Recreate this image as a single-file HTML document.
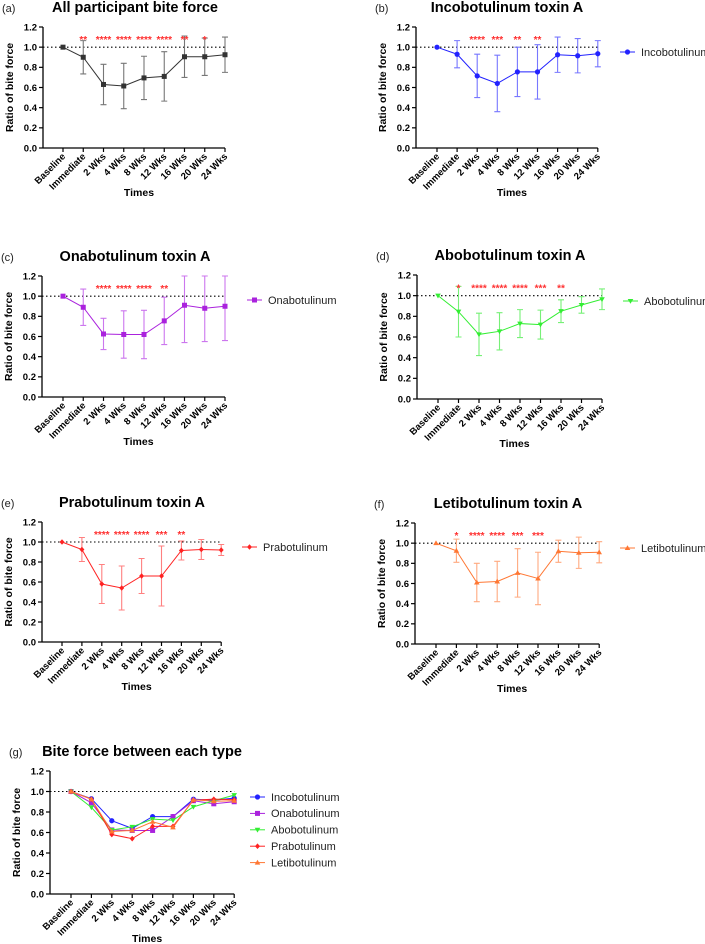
<!DOCTYPE html>
<html><head><meta charset="utf-8"><style>
body{margin:0;background:#fff}
svg{display:block;font-family:"Liberation Sans",Arial,sans-serif}
</style></head><body>
<svg id="fig" width="705" height="944" viewBox="0 0 705 944" xmlns="http://www.w3.org/2000/svg"></svg>
<script>
const categories=["Baseline","Immediate","2 Wks","4 Wks","8 Wks","12 Wks","16 Wks","20 Wks","24 Wks"];
const yTicks=[0,0.2,0.4,0.6,0.8,1.0,1.2];
const allMean=[1,0.90,0.63,0.615,0.695,0.71,0.905,0.905,0.925];
const allSd=[0,0.165,0.2,0.225,0.215,0.245,0.205,0.185,0.175];
const allStars=["","**","****","****","****","****","**","*",""];
const incoMean=[1,0.93,0.715,0.64,0.755,0.755,0.925,0.915,0.935];
const incoSd=[0,0.135,0.215,0.28,0.245,0.27,0.175,0.17,0.13];
const incoStars=["","","****","***","**","**","","",""];
const onaMean=[1,0.89,0.625,0.62,0.62,0.755,0.91,0.88,0.90];
const onaSd=[0,0.18,0.155,0.235,0.24,0.235,0.37,0.33,0.34];
const onaStars=["","","****","****","****","**","","",""];
const aboMean=[1,0.845,0.625,0.655,0.73,0.72,0.85,0.91,0.965];
const aboSd=[0,0.245,0.205,0.18,0.135,0.14,0.11,0.08,0.10];
const aboStars=["","*","****","****","****","***","**","",""];
const praMean=[1,0.925,0.58,0.54,0.66,0.66,0.915,0.925,0.92];
const praSd=[0,0.12,0.195,0.22,0.175,0.30,0.095,0.10,0.055];
const praStars=["","","****","****","****","***","**","",""];
const letiMean=[1,0.925,0.61,0.62,0.705,0.65,0.92,0.905,0.91];
const letiSd=[0,0.115,0.19,0.20,0.24,0.26,0.11,0.155,0.105];
const letiStars=["","*","****","****","***","***","","",""];

const NS="http://www.w3.org/2000/svg";
const svg=document.getElementById('fig');
function mk(tag,attrs,parent,text){const e=document.createElementNS(NS,tag);for(const k in attrs)e.setAttribute(k,attrs[k]);if(text!==undefined)e.textContent=text;(parent||svg).appendChild(e);return e;}

function marker(g,shape,x,y,color){
  let m;
  if(shape==='square')m=mk('rect',{x:x-2.5,y:y-2.5,width:5,height:5,fill:color},g);
  else if(shape==='circle')m=mk('circle',{cx:x,cy:y,r:2.6,fill:color},g);
  else if(shape==='tdown')m=mk('polygon',{points:`${x-2.8},${y-2} ${x+2.8},${y-2} ${x},${y+2.8}`,fill:color},g);
  else if(shape==='tup')m=mk('polygon',{points:`${x-2.8},${y+2} ${x+2.8},${y+2} ${x},${y-2.8}`,fill:color},g);
  else m=mk('polygon',{points:`${x},${y-2.8} ${x+2.5},${y} ${x},${y+2.8} ${x-2.5},${y}`,fill:color},g);
  
  
}

function panel(o){
  const g=mk('g',{},svg);
  
  
  const yS=v=>o.bot-(v/1.2)*(o.bot-o.top);
  const xS=i=>o.base+i*o.step;
  const lbl=mk('text',{x:o.ax-41,y:o.top-15,'font-size':11,fill:'#222'},g,o.letter);
  
  const t=mk('text',{x:o.tx,y:o.top-15,'font-size':14.5,'font-weight':'bold','text-anchor':'middle'},g,o.title);
  
  const right=xS(categories.length-1);
  // axes
  const ya=mk('line',{x1:o.ax,y1:o.top,x2:o.ax,y2:o.bot,stroke:'#000','stroke-width':1.3},g);
  
  const xa=mk('line',{x1:o.ax,y1:o.bot,x2:right,y2:o.bot,stroke:'#000','stroke-width':1.3},g);
  
  yTicks.forEach(v=>{
    const y=yS(v);
    mk('line',{x1:o.ax-4,y1:y,x2:o.ax,y2:y,stroke:'#000','stroke-width':1.2},g);
    const tl=mk('text',{x:o.ax-6,y:y+3.3,'font-size':9.5,'font-weight':'bold','text-anchor':'end'},g,v.toFixed(1));
    
  });
  categories.forEach((c,i)=>{
    const x=xS(i);
    mk('line',{x1:x,y1:o.bot,x2:x,y2:o.bot+4,stroke:'#000','stroke-width':1.2},g);
    const tl=mk('text',{x:x+3,y:o.bot+9,'font-size':9.5,'font-weight':'bold','text-anchor':'end',transform:`rotate(-45 ${x+3} ${o.bot+9})`},g,c);
    
  });
  const yt=mk('text',{x:0,y:0,'font-size':10.5,'font-weight':'bold','text-anchor':'middle',transform:`translate(${o.ax-30},${(o.top+o.bot)/2}) rotate(-90)`},g,'Ratio of bite force');
  
  const xt=mk('text',{x:(o.ax+right)/2+5,y:o.bot+48,'font-size':10.5,'font-weight':'bold','text-anchor':'middle'},g,'Times');
  
  const ref=mk('line',{x1:o.ax,y1:yS(1),x2:right,y2:yS(1),stroke:'#000','stroke-width':1.1,'stroke-dasharray':'1.5,2.5'},g);
  
  o.series.forEach(s=>{
    if(s.sd){s.mean.forEach((m,i)=>{
      if(!s.sd[i])return;
      const x=xS(i),hi=Math.min(1.2,m+s.sd[i]),lo=m-s.sd[i];
      const eb=mk('path',{d:`M${x},${yS(hi)}V${yS(lo)}M${x-3},${yS(hi)}H${x+3}M${x-3},${yS(lo)}H${x+3}`,stroke:s.err,'stroke-width':1.1,fill:'none'},g);
      
    });}
    const ln=mk('polyline',{points:s.mean.map((m,i)=>`${xS(i)},${yS(m)}`).join(' '),fill:'none',stroke:s.color,'stroke-width':1},g);
    
    s.mean.forEach((m,i)=>marker(g,s.shape,xS(i),yS(m),s.color));
  });
  if(o.stars)o.stars.forEach((st,i)=>{
    if(!st)return;
    const s=mk('text',{x:xS(i),y:yS(1.09)+5,'font-size':10,'font-weight':'bold',fill:'#ff3030','text-anchor':'middle'},g,st);
    
  });
  if(o.legend){
    o.series.forEach((s,k)=>{
      const ly=o.legend.y+k*16.4;
      const lg=mk('g',{},g);
      
      mk('line',{x1:o.legend.x,y1:ly,x2:o.legend.x+15,y2:ly,stroke:s.color,'stroke-width':1},lg);
      marker(lg,s.shape,o.legend.x+7.5,ly,s.color);
      mk('text',{x:o.legend.x+21,y:ly+3.8,'font-size':11,fill:'#222'},lg,s.label);
    });
  }
}

const C={inco:'#2222ff',ona:'#aa22dd',abo:'#33ee33',pra:'#ff2222',leti:'#ff7733'};
panel({name:'panel-a-all',letter:'(a)',title:'All participant bite force',tx:135,top:27,bot:148,ax:43,base:63,step:20.25,stars:allStars,
  series:[{mean:allMean,sd:allSd,color:'#333',err:'#777',shape:'square',label:'All'}]});
panel({name:'panel-b-inco',letter:'(b)',title:'Incobotulinum toxin A',tx:507,top:27,bot:148,ax:416,base:437,step:20.1,stars:incoStars,legend:{x:620,y:52},
  series:[{mean:incoMean,sd:incoSd,color:C.inco,err:'#7777ff',shape:'circle',label:'Incobotulinum'}]});
panel({name:'panel-c-ona',letter:'(c)',title:'Onabotulinum toxin A',tx:135,top:276,bot:397,ax:42,base:63,step:20.25,stars:onaStars,legend:{x:247,y:300},
  series:[{mean:onaMean,sd:onaSd,color:C.ona,err:'#cc77ee',shape:'square',label:'Onabotulinum'}]});
panel({name:'panel-d-abo',letter:'(d)',title:'Abobotulinum toxin A',tx:510,top:275,bot:399,ax:417,base:438,step:20.5,stars:aboStars,legend:{x:623,y:301},
  series:[{mean:aboMean,sd:aboSd,color:C.abo,err:'#77f077',shape:'tdown',label:'Abobotulinum'}]});
panel({name:'panel-e-pra',letter:'(e)',title:'Prabotulinum toxin A',tx:132,top:522,bot:642,ax:42,base:62,step:19.9,stars:praStars,legend:{x:242,y:547},
  series:[{mean:praMean,sd:praSd,color:C.pra,err:'#ff8080',shape:'diamond',label:'Prabotulinum'}]});
panel({name:'panel-f-leti',letter:'(f)',title:'Letibotulinum toxin A',tx:508,top:523,bot:644,ax:415,base:436,step:20.4,stars:letiStars,legend:{x:620,y:548},
  series:[{mean:letiMean,sd:letiSd,color:C.leti,err:'#ffaa80',shape:'tup',label:'Letibotulinum'}]});
panel({name:'panel-g-compare',letter:'(g)',title:'Bite force between each type',tx:142,top:771,bot:894,ax:50,base:71,step:20.4,legend:{x:250,y:797},
  series:[
    {mean:incoMean,color:C.inco,shape:'circle',label:'Incobotulinum'},
    {mean:onaMean,color:C.ona,shape:'square',label:'Onabotulinum'},
    {mean:aboMean,color:C.abo,shape:'tdown',label:'Abobotulinum'},
    {mean:praMean,color:C.pra,shape:'diamond',label:'Prabotulinum'},
    {mean:letiMean,color:C.leti,shape:'tup',label:'Letibotulinum'}]});
</script>
</body></html>
